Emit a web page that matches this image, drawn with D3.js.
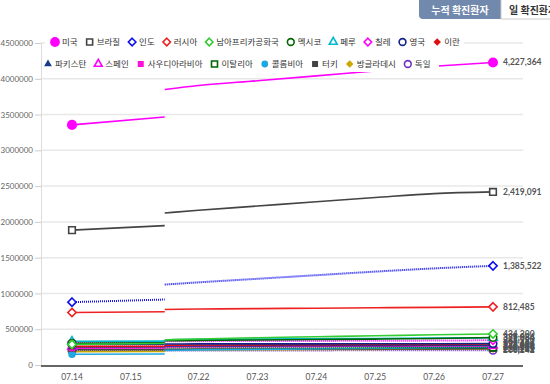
<!DOCTYPE html>
<html>
<head>
<meta charset="utf-8">
<script src="https://cdn.jsdelivr.net/npm/d3@7"></script>
<style>
  body { margin: 0; background: #fff; }
  svg { display: block; }
</style>
</head>
<body>
<div id="chart"></div>
<script>
var width = 550,
    height = 384;

// x categories
var dates = ["07.14", "07.15", "07.22", "07.23", "07.24", "07.25", "07.26", "07.27"];
// position of each category along the axis (07.15 -> 07.22 gap is a bit wider)
var slots = [0, 1, 2.15, 3.15, 4.15, 5.15, 6.15, 7.15];
var breakSlot = 1.575; // where the line breaks between 07.15 and 07.22

var yTicks = [0, 500000, 1000000, 1500000, 2000000, 2500000, 3000000, 3500000, 4000000, 4500000];

var names = ["미국", "브라질", "인도", "러시아", "남아프리카공화국", "멕시코", "페루", "칠레", "영국", "이란",
             "파키스탄", "스페인", "사우디아라비아", "이탈리아", "콜롬비아", "터키", "방글라데시", "독일"];

// each row: [07.14, break (left end), break (right start), 07.22, 07.23, 07.24, 07.25, 07.26, 07.27]
var usa        = [3355646, 3465000, 3850000, 3905000, 3972000, 4040000, 4110000, 4175000, 4227364];
var brazil     = [1884967, 1948000, 2125000, 2162000, 2222000, 2282000, 2340000, 2395000, 2419091];
var india      = [878254, 915000, 1124000, 1155000, 1205000, 1255000, 1305000, 1350000, 1385522];
var russia     = [733699, 745000, 776000, 782000, 788000, 794000, 800000, 806000, 812485];
var southAfrica= [287796, 300000, 350000, 364328, 381798, 394948, 408052, 421996, 434200];
var mexico     = [304435, 311486, 338913, 344224, 349396, 356255, 362274, 370712, 385036];
var peru       = [330123, 333867, 353590, 357681, 362087, 366550, 371096, 375961, 379884];
var chile      = [319493, 321205, 330930, 333029, 334683, 336402, 338759, 341304, 345790];
var uk         = [291373, 291911, 294066, 294792, 295372, 295817, 296377, 297146, 299426];
var iran       = [259652, 262173, 276202, 278827, 281413, 284034, 286523, 288839, 293606];
var pakistan   = [253604, 255769, 265083, 266096, 267428, 268680, 270400, 271887, 274289];
var spain      = [256619, 257494, 264836, 266194, 267551, 270166, 270166, 272421, 272421];
var saudi      = [235111, 237803, 253349, 255825, 258156, 260394, 262772, 264973, 266941];
var italy      = [243230, 243344, 244624, 244752, 244971, 245032, 245338, 245590, 246286];
var colombia   = [150445, 154277, 204005, 211038, 218428, 226373, 233541, 240795, 248976];
var turkey     = [214001, 214993, 220572, 221500, 222402, 223315, 224252, 225173, 227982];
var bangladesh = [186894, 190057, 207453, 210510, 213254, 216110, 218658, 221178, 226225];
var germany    = [199919, 200890, 202735, 203368, 203717, 204183, 204964, 205623, 206242];

var values = [usa, brazil, india, russia, southAfrica, mexico, peru, chile, uk, iran,
              pakistan, spain, saudi, italy, colombia, turkey, bangladesh, germany];

var colors = ["#ff00ff", "#444444", "#1010ee", "#ee2222", "#33cc33", "#006600", "#00b8d0", "#ff00ff", "#112288", "#e01010",
              "#1a3a8a", "#ff00ff", "#ff10d8", "#006600", "#1ea7e0", "#444444", "#c9a800", "#7030c0"];
var shapes = ["circle", "square", "diamond", "diamond", "diamond", "circle", "triangle", "diamond", "circle", "diamond",
              "triangle", "triangle", "square", "square", "circle", "square", "diamond", "circle"];
var filled = [true, false, false, false, false, false, false, false, false, true,
              true, false, true, false, true, true, true, false];
var dotted = [false, false, true, false, false, false, false, true, false, false,
              false, true, false, true, false, false, false, true];

var margin = {left: 41, right: 523, top: 43, bottom: 365};

var svg = d3.select("#chart").append("svg")
    .attr("width", width)
    .attr("height", height);

var x = d3.scaleLinear()
    .domain([0, slots[slots.length - 1]])
    .range([72, 493]);

var y = d3.scaleLinear()
    .domain([0, 4500000])
    .range([margin.bottom, margin.top]);

// grid
svg.append("g")
    .selectAll("line")
    .data(yTicks.slice(1))
    .enter()
    .append("line")
    .attr("x1", margin.left)
    .attr("x2", margin.right)
    .attr("y1", function(d) { return y(d); })
    .attr("y2", function(d) { return y(d); })
    .attr("stroke", "#e8e8e8")
    .attr("stroke-width", 1.5);

// y axis
var yAxis = svg.append("g")
    .attr("transform", "translate(" + margin.left + ",0)")
    .call(d3.axisLeft(y).tickValues(yTicks).tickFormat(d3.format("d")).tickSize(6).tickPadding(2));
yAxis.select(".domain").attr("stroke", "#dcdcdc");
yAxis.selectAll(".tick line").attr("stroke", "#cccccc");
yAxis.selectAll("text")
    .attr("fill", "#666")
    .style("font-family", "Lato, sans-serif")
    .style("font-size", "8px");

// x axis
svg.append("line")
    .attr("x1", margin.left)
    .attr("x2", margin.right)
    .attr("y1", margin.bottom + 1)
    .attr("y2", margin.bottom + 1)
    .attr("stroke", "#333")
    .attr("stroke-width", 1.5);

svg.append("g")
    .selectAll("text")
    .data(dates)
    .enter()
    .append("text")
    .attr("x", function(d, i) { return x(slots[i]); })
    .attr("y", 380)
    .attr("text-anchor", "middle")
    .attr("fill", "#555")
    .style("font-family", "Lato, sans-serif")
    .style("font-size", "8.5px")
    .text(function(d) { return d; });

var line1 = d3.line()
    .x(function(d) { return x(d[0]); })
    .y(function(d) { return y(d[1]); });

var line2 = d3.line()
    .x(function(d) { return x(d[0]); })
    .y(function(d) { return y(d[1]); })
    .curve(d3.curveMonotoneX);

function symbolPath(shape, size) {
    var t = {circle: d3.symbolCircle, square: d3.symbolSquare, diamond: d3.symbolDiamond2, triangle: d3.symbolTriangle2}[shape];
    return d3.symbol().type(t).size(size)();
}

var lines = svg.append("g").attr("class", "lines");

// draw smaller series first so the big ones stay visible
var order = d3.range(names.length).reverse();

order.forEach(function(i) {
    var v = values[i];
    var seg1 = [[slots[0], v[0]], [breakSlot, v[1]]];
    var seg2 = [[breakSlot, v[2]]];
    for (var k = 3; k < v.length; k++) seg2.push([slots[k - 1], v[k]]);

    [line1(seg1), line2(seg2)].forEach(function(dd) {
        lines.append("path")
            .attr("d", dd)
            .attr("fill", "none")
            .attr("stroke", colors[i])
            .attr("stroke-width", dotted[i] ? 2 : 1.6)
            .attr("stroke-dasharray", dotted[i] ? "1,1" : null);
    });
});

// end markers
var markers = svg.append("g").attr("class", "markers");
order.forEach(function(i) {
    var v = values[i];
    var pts = [[slots[0], v[0]], [slots[slots.length - 1], v[v.length - 1]]];
    var size = i == 0 ? 80 : (shapes[i] == "triangle" ? 50 : 44);
    pts.forEach(function(p) {
        markers.append("path")
            .attr("d", symbolPath(shapes[i], size))
            .attr("transform", "translate(" + x(p[0]) + "," + y(p[1]) + ")")
            .attr("fill", filled[i] ? colors[i] : "#fff")
            .attr("stroke", colors[i])
            .attr("stroke-width", filled[i] ? 0 : 1.6);
    });
});

// value labels at the last point
var fmt = d3.format(",");
svg.append("g")
    .selectAll("text")
    .data(order)
    .enter()
    .append("text")
    .attr("x", 503)
    .attr("y", function(i) { return y(values[i][values[i].length - 1]); })
    .attr("dy", "0.35em")
    .attr("fill", "#555")
    .style("font-family", "Lato, sans-serif")
    .style("font-size", "8.5px")
    .style("font-weight", "bold")
    .text(function(i) { return fmt(values[i][values[i].length - 1]); });

// legend
var legendRows = [
    {start: 55, y: 42, items: d3.range(0, 10), bg: [45, 464]},
    {start: 48, y: 64, items: d3.range(10, 18), bg: [42, 439]}
];
var legend = svg.append("g").attr("class", "legend");

legendRows.forEach(function(row) {
    legend.append("rect")
        .attr("x", row.bg[0])
        .attr("y", row.y - 8)
        .attr("width", row.bg[1] - row.bg[0])
        .attr("height", 16)
        .attr("fill", "#fff");

    var cx = row.start;
    row.items.forEach(function(i) {
        var size = i == 0 ? 75 : (shapes[i] == "triangle" ? 44 : 36);
        legend.append("path")
            .attr("d", symbolPath(shapes[i], size))
            .attr("transform", "translate(" + cx + "," + row.y + ")")
            .attr("fill", filled[i] ? colors[i] : "#fff")
            .attr("stroke", colors[i])
            .attr("stroke-width", filled[i] ? 0 : 1.6);
        var t = legend.append("text")
            .attr("x", cx + 7)
            .attr("y", row.y)
            .attr("dy", "0.35em")
            .attr("fill", "#333")
            .style("font-family", "'Noto Sans CJK KR', sans-serif")
            .style("font-size", "8.5px")
            .text(names[i]);
        cx = cx + 7 + t.node().getComputedTextLength() + 12;
    });
});

// tab buttons
var tabs = svg.append("g").attr("class", "tabs");
tabs.append("path")
    .attr("d", "M419,0 H501 V19 H423 Q419,19 419,15 Z")
    .attr("fill", "#7189ad");
tabs.append("text")
    .attr("x", 460)
    .attr("y", 10)
    .attr("dy", "0.35em")
    .attr("text-anchor", "middle")
    .attr("fill", "#fff")
    .style("font-family", "'Noto Sans CJK KR', sans-serif")
    .style("font-size", "10px")
    .style("font-weight", "bold")
    .text("누적 확진환자");
tabs.append("rect")
    .attr("x", 501)
    .attr("y", -1)
    .attr("width", 60)
    .attr("height", 20)
    .attr("fill", "#fff")
    .attr("stroke", "#ccc");
tabs.append("text")
    .attr("x", 509)
    .attr("y", 10)
    .attr("dy", "0.35em")
    .attr("fill", "#333")
    .style("font-family", "'Noto Sans CJK KR', sans-serif")
    .style("font-size", "10px")
    .style("font-weight", "bold")
    .text("일 확진환자");
</script>
</body>
</html>
